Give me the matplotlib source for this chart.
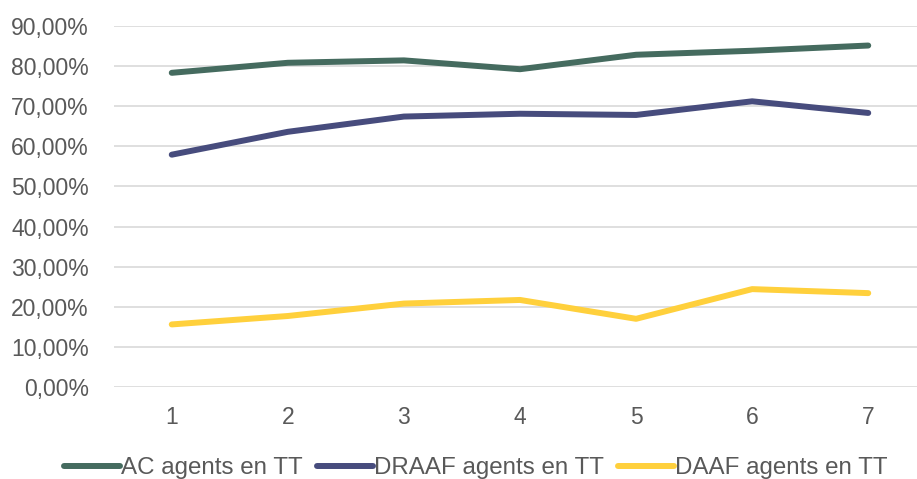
import matplotlib.pyplot as plt
from matplotlib.ticker import FuncFormatter

x = [1, 2, 3, 4, 5, 6, 7]
ac = [78.3, 80.8, 81.4, 79.2, 82.8, 83.8, 85.1]
draaf = [57.9, 63.6, 67.4, 68.1, 67.8, 71.2, 68.3]
daaf = [15.6, 17.7, 20.8, 21.7, 17.0, 24.4, 23.4]
labels = ['AC agents en TT', 'DRAAF agents en TT', 'DAAF agents en TT']
colors = ['#456b5f', '#474c7d', '#ffd03c']

plt.rcParams['font.family'] = ['Liberation Sans', 'DejaVu Sans']

fig = plt.figure(figsize=(9.17, 4.79), dpi=100)
ax = fig.add_axes([0.124, 0.192, 0.876, 0.754])

for ys, lab, c in zip([ac, draaf, daaf], labels, colors):
    ax.plot(x, ys, color=c, lw=4.3, label=lab, solid_capstyle='round')

ax.set_ylim(0, 90)
ax.set_xlim(0.5, 7.42)
ax.set_yticks(range(0, 91, 10))
ax.yaxis.set_major_formatter(FuncFormatter(lambda v, p: f'{v:.2f}%'.replace('.', ',')))
ax.set_xticks(x)
ax.grid(axis='y', color='#d9d9d9', lw=1.2)
ax.set_axisbelow(True)
for s in ax.spines.values():
    s.set_visible(False)
ax.tick_params(length=0, labelsize=16.5, colors='#595959', pad=18)
ax.tick_params(axis='x', pad=14)

fig.legend(loc='center', bbox_to_anchor=(0.519, 0.022), ncol=3, frameon=False,
           fontsize=17.4, handlelength=2.3, handletextpad=0.05, columnspacing=0.6,
           labelcolor='#595959')

fig.savefig('out.png')
